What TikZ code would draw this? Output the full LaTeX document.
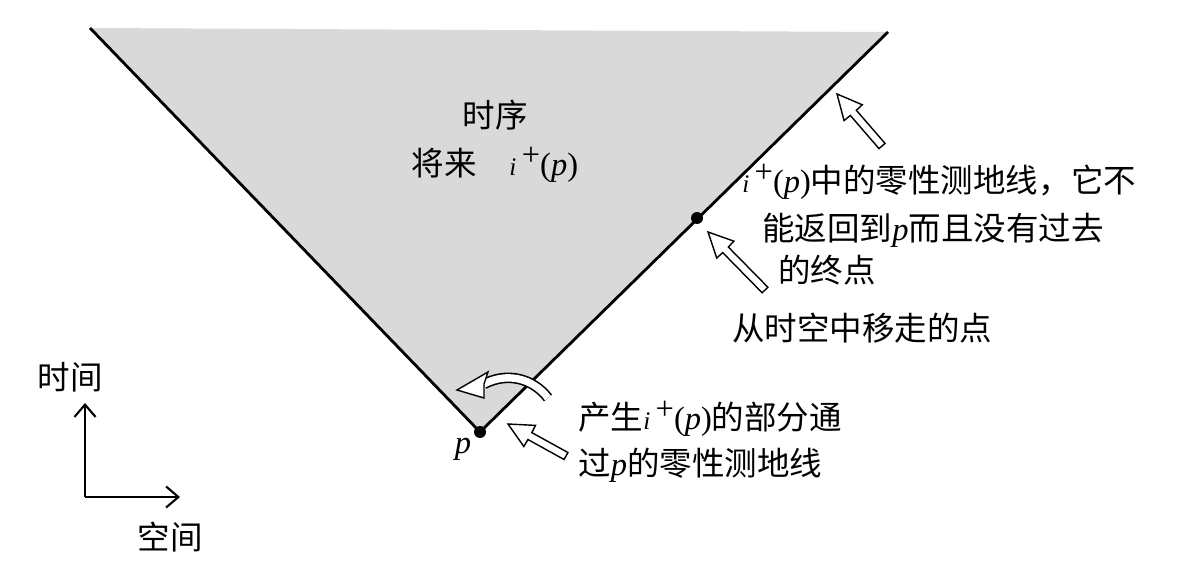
\documentclass[tikz,border=0pt]{standalone}
\usepackage{fontspec}
\setmainfont{Liberation Serif}
\newfontfamily\cjk{Noto Sans CJK SC}
\usetikzlibrary{calc,arrows.meta}
\newcommand\ip{{\rmfamily{\Large\textit{i}}\,\raisebox{0.7ex}{+}(\textit{p})}}
\newcommand\pp{{\rmfamily\textit{p}}}
% hollow arrow from tail #2 to tip #1
\newcommand\hollowarrow[2]{%
  \draw[fill=white, line width=0.8pt, line join=miter]
    (#1) -- ($(#1)!0.55cm!26:(#2)$) -- ($(#1)!0.506cm!9:(#2)$)
    -- ($(#2)!0.08cm!-90:(#1)$) -- ($(#2)!0.08cm!90:(#1)$)
    -- ($(#1)!0.506cm!-9:(#2)$) -- ($(#1)!0.55cm!-26:(#2)$) -- cycle;}
\begin{document}
\begin{tikzpicture}[x=0.02cm, y=-0.02cm, semithick,
  label/.style = {font=\cjk\fontsize{18.5}{22}\selectfont, inner sep=1pt},
  lbl/.style = {label, anchor=west}]
  \useasboundingbox (0,0) rectangle (1196,567);
  \coordinate (L) at (90,28);
  \coordinate (p) at (480,432);
  \coordinate (R) at (888,32);
  \fill[gray!30] (L) -- (p) -- (R) -- cycle;
  \draw[line width=1.6pt] (L) -- (p) -- (R);
  \fill (p) circle (6);
  \coordinate (q) at (697,218);
  \fill (q) circle (6);
  \node[label] (p-lab) at (463,449) {\pp};

  \node[label] (chrono) at (495,115) {时序};
  \node[label] (future) at (495,165) {将来\quad\ip};

  \node[lbl] (geo1) at (740,182) {\ip 中的零性测地线，它不};
  \node[lbl] (geo2) at (760,230) {能返回到\pp 而且没有过去};
  \node[lbl] (geo3) at (776,270) {的终点};
  \node[lbl] (removed) at (730,328) {从时空中移走的点};
  \node[lbl] (part1) at (576,419) {产生\ip 的部分通};
  \node[lbl] (part2) at (576,465) {过\pp 的零性测地线};

  % hollow arrows
  \coordinate (a1) at (837,94);  \coordinate (a1t) at (882,146);
  \coordinate (a2) at (708,232); \coordinate (a2t) at (765,290);
  \coordinate (a3) at (508,424); \coordinate (a3t) at (566,456);
  \hollowarrow{a1}{a1t}
  \hollowarrow{a2}{a2t}
  \hollowarrow{a3}{a3t}
  % curved hollow arrow
  \coordinate (c0) at (548,398);
  \coordinate (c1) at (484,384);
  \coordinate (c2) at (457,390);
  \draw[line width=6pt] (c0) to[bend right=40] (c1);
  \draw[line width=4.2pt, white] (c0) to[bend right=40] (c1);
  \draw[fill=white, line width=0.8pt] (c2) -- (488,372) -- (484,384) -- (484,398) -- cycle;

  % axes
  \coordinate (o) at (85,497);
  \coordinate (up) at (85,403);
  \coordinate (right) at (180,497);
  \draw[line width=1.2pt, -{Straight Barb[length=7pt,width=12pt]}] (o) -- (up);
  \draw[line width=1.2pt, -{Straight Barb[length=7pt,width=12pt]}] (o) -- (right);
  \node[label] (time) at (70,377) {时间};
  \node[label] (space) at (170,537) {空间};
\end{tikzpicture}
\end{document}
